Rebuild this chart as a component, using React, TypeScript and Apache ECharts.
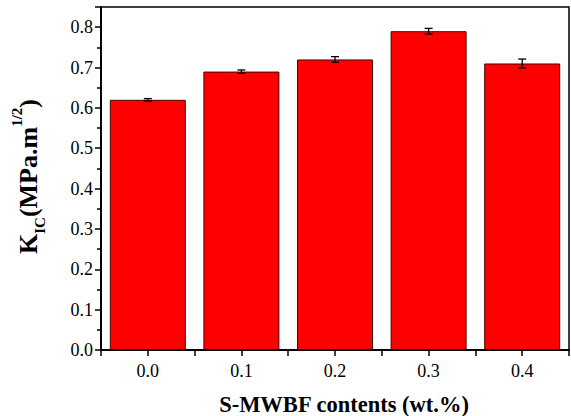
import React, { useEffect, useRef } from "react";
import * as echarts from "echarts";

const contents = [0.0, 0.1, 0.2, 0.3, 0.4];
const kic = [0.62, 0.69, 0.72, 0.79, 0.71];
const kicErr = [0.003, 0.004, 0.007, 0.007, 0.011];
const yTicks = [0, 0.1, 0.2, 0.3, 0.4, 0.5, 0.6, 0.7, 0.8];

const FONT = "'Liberation Serif', 'Times New Roman', serif";

export default function App() {
  const ref = useRef<HTMLDivElement>(null);
  useEffect(() => {
    if (!ref.current) return;
    const chart = echarts.init(ref.current, undefined, { renderer: "svg" });
    const barData = contents.map((c, i) => [c, kic[i]]);
    const errData = contents.map((c, i) => [c, kic[i] - kicErr[i], kic[i] + kicErr[i]]);
    chart.setOption({
      animation: false,
      grid: {
        left: 101,
        top: 7,
        right: 2,
        bottom: 66,
        outerBoundsMode: "none",
        containLabel: false,
        show: true,
        borderColor: "#000",
        borderWidth: 1.5,
        backgroundColor: "transparent",
      },
      xAxis: {
        type: "value",
        min: -0.05,
        max: 0.45,
        interval: 0.05,
        name: "S-MWBF contents (wt.%)",
        nameLocation: "middle",
        nameGap: 43,
        nameTextStyle: { fontFamily: FONT, fontSize: 22.5, fontWeight: "bold", color: "#000", padding: [0, 0, 0, 18] },
        axisLine: { show: true, onZero: false, lineStyle: { color: "#000", width: 2 } },
        axisTick: { show: true, inside: false, length: 6, lineStyle: { color: "#000", width: 1.5 } },
        splitLine: { show: false },
        axisLabel: {
          fontFamily: FONT,
          fontSize: 18,
          color: "#000",
          margin: 12,
          formatter: (v: number) => {
            const k = Math.round(v * 100);
            return k % 10 === 0 ? (k / 100).toFixed(1) : "";
          },
        },
      },
      yAxis: {
        type: "value",
        min: 0,
        max: 0.85,
        interval: 0.1,
        name: "{k|K}{sub|IC}{k|(MPa.m}{sup|1/2}{k|)}",
        nameLocation: "middle",
        nameGap: 54,
        nameTextStyle: {
          fontFamily: FONT,
          color: "#000",
          padding: [0, 0, 0, 4],
          rich: {
            k: { fontFamily: FONT, fontSize: 26, fontWeight: "bold", color: "#000", lineHeight: 38, verticalAlign: "middle" },
            sub: { fontFamily: FONT, fontSize: 15, fontWeight: "bold", color: "#000", lineHeight: 38, verticalAlign: "bottom", padding: [13, 0, 0, 0] },
            sup: { fontFamily: FONT, fontSize: 15, fontWeight: "bold", color: "#000", lineHeight: 38, verticalAlign: "top", padding: [0, 0, 15, 0] },
          },
        },
        axisLine: { show: true, onZero: false, lineStyle: { color: "#000", width: 2 } },
        axisTick: { show: true, inside: false, length: 6, lineStyle: { color: "#000", width: 1.5 } },
        minorTick: { show: true, splitNumber: 2, length: 4, lineStyle: { color: "#000", width: 1.5 } },
        splitLine: { show: false },
        axisLabel: {
          fontFamily: FONT,
          fontSize: 18,
          color: "#000",
          margin: 8,
          formatter: (v: number) => (yTicks.some((t) => Math.abs(t - v) < 1e-6) ? v.toFixed(1) : ""),
        },
      },
      series: [
        {
          type: "bar",
          data: barData,
          barWidth: 76,
          itemStyle: { color: "#ff0000", borderColor: "#4a0000", borderWidth: 1 },
        },
        {
          type: "custom",
          data: errData,
          z: 10,
          renderItem: (params: any, api: any) => {
            const x = api.value(0);
            const lo = api.coord([x, api.value(1)]);
            const hi = api.coord([x, api.value(2)]);
            const w = 4;
            const st = { stroke: "#000", lineWidth: 1.3 };
            return {
              type: "group",
              children: [
                { type: "line", shape: { x1: lo[0], y1: lo[1], x2: hi[0], y2: hi[1] }, style: st },
                { type: "line", shape: { x1: lo[0] - w, y1: lo[1], x2: lo[0] + w, y2: lo[1] }, style: st },
                { type: "line", shape: { x1: hi[0] - w, y1: hi[1], x2: hi[0] + w, y2: hi[1] }, style: st },
              ],
            };
          },
        },
      ],
    });
    return () => chart.dispose();
  }, []);
  return <div ref={ref} style={{ width: 571, height: 416, position: "absolute", left: 0, top: 0 }} />;
}
